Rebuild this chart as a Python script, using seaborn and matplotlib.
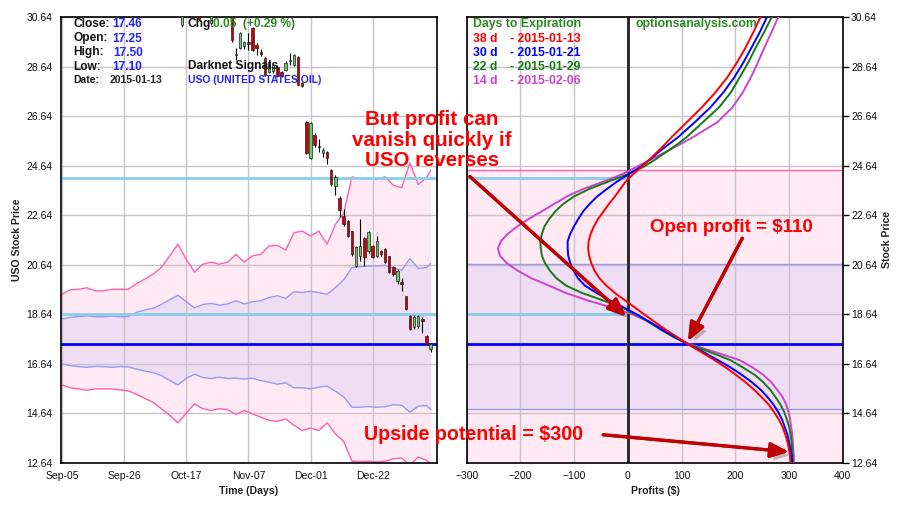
import matplotlib
matplotlib.use("Agg")
import matplotlib.pyplot as plt
import seaborn as sns
import numpy as np
from matplotlib import patheffects as pe

sns.set_theme(style="white")
plt.rcParams["font.family"] = ["Liberation Sans", "DejaVu Sans"]

# ---------------- data ----------------
tick_days = [0, 15, 30, 45, 60, 75]
tick_labels = ["Sep-05", "Sep-26", "Oct-17", "Nov-07", "Dec-01", "Dec-22"]
price_ticks = [12.64, 14.64, 16.64, 18.64, 20.64, 22.64, 24.64, 26.64, 28.64, 30.64]
profit_ticks = [-300, -200, -100, 0, 100, 200, 300, 400]

band_day = [0, 2, 4, 6, 8, 10, 12, 14, 16, 18, 20, 22, 24, 26, 28, 30, 32, 34, 36, 38,
            40, 42, 44, 46, 48, 50, 52, 54, 56, 58, 60, 62, 64, 66, 68, 70, 72, 74, 76,
            78, 80, 82, 84, 86, 88, 89]
upper_pink = [19.45, 19.63, 19.65, 19.71, 19.59, 19.59, 19.65, 19.65, 19.65, 19.88, 20.06,
              20.26, 20.53, 21.00, 21.47, 20.86, 20.35, 20.66, 20.75, 20.66, 20.75, 21.06,
              20.75, 21.00, 21.06, 21.40, 21.42, 21.24, 21.93, 22.00, 21.80, 22.00, 21.47,
              22.27, 22.71, 24.19, 24.11, 24.12, 24.08, 24.19, 23.85, 23.75, 24.75, 23.88,
              24.15, 24.46]
upper_purple = [18.45, 18.52, 18.55, 18.58, 18.54, 18.54, 18.57, 18.54, 18.55, 18.72, 18.82,
                18.88, 19.04, 19.23, 19.41, 19.15, 18.90, 19.04, 19.08, 19.01, 19.06, 19.19,
                19.06, 19.15, 19.19, 19.32, 19.39, 19.28, 19.55, 19.52, 19.57, 19.52, 19.45,
                19.72, 20.03, 20.53, 20.57, 20.59, 20.59, 20.62, 20.50, 20.42, 20.89, 20.49,
                20.53, 20.69]
lower_purple = [16.64, 16.57, 16.53, 16.50, 16.54, 16.53, 16.50, 16.53, 16.52, 16.43, 16.35,
                16.29, 16.17, 15.97, 15.79, 16.06, 16.22, 16.09, 16.05, 16.10, 16.05, 16.06,
                16.03, 16.06, 15.97, 15.90, 15.82, 15.87, 15.68, 15.68, 15.63, 15.70, 15.74,
                15.54, 15.31, 14.89, 14.89, 14.92, 14.89, 14.91, 14.99, 14.97, 14.69, 14.93,
                14.96, 14.80]
lower_pink = [15.79, 15.67, 15.63, 15.57, 15.63, 15.63, 15.63, 15.59, 15.55, 15.41, 15.25,
              15.09, 14.83, 14.56, 14.26, 14.65, 15.03, 14.83, 14.76, 14.83, 14.79, 14.60,
              14.76, 14.62, 14.49, 14.36, 14.32, 14.42, 14.16, 13.95, 14.05, 13.95, 14.26,
              13.82, 13.51, 12.71, 12.70, 12.71, 12.68, 12.71, 12.81, 12.84, 12.55, 12.88,
              12.75, 12.61]

candle_day = [29, 33, 36, 41, 42, 43, 44, 45, 46, 47, 48, 49, 50, 51, 52, 53, 54, 55, 56, 57,
              58, 59, 60, 61, 62, 63, 64, 65, 66, 67, 68, 69, 70, 71, 72, 73, 74, 75, 76, 77,
              78, 79, 80, 81, 82, 83, 84, 85, 86, 87, 88, 89]
c_open = [30.32, 30.90, 30.38, 30.90, 29.12, 29.40, 29.45, 29.62, 30.20, 29.50, 29.24, 28.98,
          28.44, 28.45, 28.64, 28.44, 28.51, 28.88, 28.71, 29.04, 27.98, 26.39, 24.93, 25.89,
          25.45, 25.15, 25.20, 24.48, 23.80, 23.35, 22.60, 22.39, 21.99, 20.60, 20.98, 21.71,
          21.18, 21.39, 20.98, 21.18, 21.26, 20.98, 20.54, 19.98, 19.95, 19.37, 18.57, 18.13,
          18.17, 18.45, 17.76, 17.25]
c_high = [30.90, 31.00, 30.90, 31.00, 29.39, 30.05, 29.68, 29.98, 30.25, 29.60, 29.35, 29.02,
          28.90, 28.75, 28.70, 28.48, 28.86, 29.19, 29.15, 29.08, 28.00, 26.45, 26.42, 25.95,
          25.70, 25.35, 25.25, 24.50, 24.25, 23.40, 22.90, 22.45, 22.02, 21.40, 22.47, 21.75,
          22.00, 21.45, 21.80, 21.25, 21.30, 21.00, 20.60, 20.45, 20.10, 19.40, 18.60, 18.60,
          18.60, 18.55, 17.80, 17.50]
c_low = [30.25, 30.50, 30.33, 29.63, 28.91, 29.35, 29.35, 29.30, 29.28, 29.10, 29.05, 28.25,
         28.40, 28.40, 28.20, 28.22, 28.48, 28.71, 28.68, 27.88, 27.80, 25.10, 24.90, 25.40,
         25.20, 25.00, 24.70, 23.80, 23.45, 22.55, 22.20, 21.75, 21.00, 20.55, 20.78, 20.58,
         21.10, 20.90, 20.95, 21.00, 20.70, 20.30, 20.20, 19.85, 19.60, 18.82, 18.00, 18.05,
         18.10, 17.90, 17.40, 17.10]
c_close = [30.80, 30.56, 30.80, 29.72, 29.16, 30.00, 29.62, 29.57, 29.31, 29.38, 29.14, 28.31,
           28.84, 28.71, 28.24, 28.27, 28.79, 28.92, 29.11, 27.90, 27.86, 25.17, 26.37, 25.49,
           25.38, 25.28, 24.96, 23.88, 24.20, 22.87, 22.27, 21.79, 21.06, 21.35, 21.39, 20.94,
           21.95, 20.94, 21.59, 21.06, 20.74, 20.34, 20.26, 20.38, 19.85, 18.85, 18.04, 18.53,
           18.57, 18.38, 17.44, 17.46]

level_high = 24.16
level_low = 18.64

price_levels = [12.64, 12.9, 13.2, 13.5, 13.8, 14.1, 14.4, 14.7, 15.0, 15.3, 15.6, 15.9,
                16.2, 16.5, 16.8, 17.1, 17.46, 17.7, 18.0, 18.3, 18.6, 18.9, 19.2, 19.5,
                19.8, 20.1, 20.4, 20.7, 21.0, 21.3, 21.6, 21.9, 22.2, 22.5, 22.8, 23.1,
                23.4, 23.7, 24.0, 24.3, 24.6, 24.9, 25.2, 25.5, 25.8, 26.4, 27.0, 27.6,
                28.2, 28.8, 29.4, 30.0, 30.64, 31.0]
profit_38d = [303, 302, 300, 297, 293, 288, 281, 272, 262, 249, 235, 219,
              201, 182, 161, 138, 110, 93, 72, 52, 33, 14, -5, -24,
              -40, -53, -62, -68, -72, -74, -73, -69, -63, -55, -45, -35,
              -24, -14, -4, 10, 26, 41, 55, 69, 82, 110, 138, 163,
              185, 203, 219, 233, 247, 255]
profit_30d = [306, 305, 303, 300, 297, 292, 287, 280, 271, 260, 247, 231,
              212, 191, 167, 142, 110, 90, 65, 43, 20, -6, -33, -58,
              -80, -93, -101, -107, -111, -112, -112, -107, -100, -92, -83, -71,
              -57, -39, -20, 2, 24, 42, 58, 76, 94, 125, 154, 178,
              198, 215, 230, 245, 259, 266]
profit_22d = [308, 307, 306, 305, 303, 300, 296, 291, 284, 275, 265, 252,
              236, 214, 190, 155, 110, 87, 63, 41, 18, -10, -46, -85,
              -115, -133, -145, -154, -160, -162, -163, -160, -155, -146, -135, -120,
              -100, -72, -36, 0, 30, 52, 72, 92, 110, 140, 170, 192,
              208, 224, 238, 253, 268, 276]
profit_14d = [309, 309, 308, 307, 306, 304, 302, 299, 295, 288, 278, 267,
              252, 232, 207, 165, 112, 92, 70, 43, 13, -27, -75, -115,
              -147, -180, -205, -225, -238, -242, -236, -223, -205, -184, -160, -137,
              -113, -83, -45, -10, 17, 44, 71, 97, 122, 167, 195, 214,
              229, 242, 254, 267, 280, 287]
curve_labels = ["38 d", "30 d", "22 d", "14 d"]
curve_dates = ["- 2015-01-13", "- 2015-01-21", "- 2015-01-29", "- 2015-02-06"]

# ---------------- styles ----------------
PINK = "#FF5FAF"
PINKFILL = "#FFE9F3"
PURPLE = "#9A9AF0"
PURPFILL = "#EEDDF3"
LIGHTBLUE = "#87CEEB"
BLUE = "#0000FF"
GRID = "#C9C2C9"
RED = "#FF0000"
GREEN_T = "#2A8A22"
CURVE_COLORS = ["#FF0000", "#0000FF", "#157A15", "#CC44CC"]
ARROW = "#C00000"

W, H = 900, 508
fig = plt.figure(figsize=(9, 5.08), dpi=100)
fig.patch.set_facecolor("white")


def fx(px):
    return px / W


def fy(py):
    return 1 - py / H


axL = fig.add_axes([fx(61), fy(463), fx(436.7) - fx(61), fy(17) - fy(463)])
axR = fig.add_axes([fx(466.7), fy(463), fx(842.7) - fx(466.7), fy(17) - fy(463)])

for ax in (axL, axR):
    ax.set_facecolor("white")
    ax.set_axisbelow("line")
    ax.grid(True, color=GRID, lw=1.0)
    for s in ax.spines.values():
        s.set_color("black")
        s.set_linewidth(1.2)
        s.set_visible(True)
    ax.tick_params(axis="both", direction="out", length=4, width=1, color="black",
                   labelsize=7.5, pad=2, labelcolor="#111111")
    ax.set_ylim(price_ticks[0], price_ticks[-1])
    ax.set_yticks(price_ticks)
    ax.set_yticklabels([f"{v:.2f}" for v in price_ticks])

# ---- left panel ----
axL.set_xlim(-0.24, 90.46)
axL.set_xticks(tick_days)
axL.set_xticklabels(tick_labels)
axL.fill_between(band_day, lower_pink, upper_pink, color=PINKFILL, lw=0, zorder=1)
axL.fill_between(band_day, lower_purple, upper_purple, color=PURPFILL, lw=0, zorder=1)
for series, col in ((upper_pink, PINK), (lower_pink, PINK),
                    (upper_purple, PURPLE), (lower_purple, PURPLE)):
    sns.lineplot(x=band_day, y=series, ax=axL, color=col, lw=1.0, estimator=None,
                 sort=False, zorder=2)
axL.axhline(level_high, color=LIGHTBLUE, lw=2, zorder=2.2)
axL.axhline(level_low, color=LIGHTBLUE, lw=2, zorder=2.2)
axL.axhline(c_close[-1], color=BLUE, lw=2, zorder=2.3)

c_open_a = np.array(c_open)
c_close_a = np.array(c_close)
up = c_close_a >= c_open_a
axL.vlines(candle_day, c_low, c_high, color="black", lw=0.8, zorder=3)
body_bottom = np.minimum(c_open_a, c_close_a)
body_h = np.maximum(np.abs(c_close_a - c_open_a), 0.03)
axL.bar(candle_day, body_h, bottom=body_bottom, width=0.6,
        color=np.where(up, "#66CC66", "#CC0000"), edgecolor="#222222", lw=0.5, zorder=4)
axL.set_xlabel("")
axL.set_ylabel("")

# ---- right panel ----
axR.set_xlim(profit_ticks[0], profit_ticks[-1])
axR.set_xticks(profit_ticks)
axR.yaxis.tick_right()
axR.axhspan(lower_pink[-1], upper_pink[-1], color=PINKFILL, lw=0, zorder=1)
axR.axhspan(lower_purple[-1], upper_purple[-1], color=PURPFILL, lw=0, zorder=1)
axR.axhline(upper_pink[-1], color=PINK, lw=1, zorder=2)
axR.axhline(upper_purple[-1], color=PURPLE, lw=1, zorder=2)
axR.axhline(lower_purple[-1], color=PURPLE, lw=1, zorder=2)
axR.hlines([level_high, level_low], profit_ticks[0], 0, color=LIGHTBLUE, lw=2, zorder=2.2)
axR.axhline(c_close[-1], color=BLUE, lw=2, zorder=2.3)
axR.axvline(0, color="#222222", lw=2, zorder=2.4)
for prof, col in zip((profit_14d, profit_22d, profit_30d, profit_38d), CURVE_COLORS[::-1]):
    sns.lineplot(x=prof, y=price_levels, ax=axR, color=col, lw=1.4, estimator=None,
                 sort=False, zorder=3)
axR.set_xlabel("")
axR.set_ylabel("")

# ---- axis titles ----
lab = dict(fontsize=7.6, fontweight="bold", color="#222222", ha="center", va="center")
fig.text(fx(249), fy(491), "Time (Days)", **lab)
fig.text(fx(655), fy(491), "Profits ($)", **lab)
fig.text(fx(17), fy(240), "USO Stock Price", rotation=90, **lab)
fig.text(fx(887), fy(240), "Stock Price", rotation=90, **lab)


def ptext(px, py, s, size=8.6, color="#111111", **kw):
    fig.text(fx(px), fy(py), s, fontsize=size, fontweight="bold", color=color,
             va="center", ha=kw.pop("ha", "left"), zorder=10, **kw)


# ---- info block ----
VAL = "#2222FF"
ptext(73, 24, "Close:")
ptext(112, 24, f"{c_close[-1]:.2f}", color=VAL)
ptext(73, 38.5, "Open:")
ptext(112, 38.5, f"{c_open[-1]:.2f}", color=VAL)
ptext(73, 52.5, "High:")
ptext(113, 52.5, f"{c_high[-1]:.2f}", color=VAL)
ptext(73, 66.5, "Low:")
ptext(112, 66.5, f"{c_low[-1]:.2f}", color=VAL)
ptext(73, 80, "Date:", size=7.5)
ptext(110, 80, "2015-01-13", size=7.5, color="#222222")
ptext(188, 24, "Chg:")
ptext(213, 24, "0.05  (+0.29 %)", color=GREEN_T)
ptext(188, 66.5, "Darknet Signals")
ptext(188, 80, "USO (UNITED STATES OIL)", size=7.5, color="#2222FF")

# ---- right legend ----
ptext(473, 24, "Days to Expiration", size=8.8, color=GREEN_T)
ptext(635, 24, "optionsanalysis.com", size=8.8, color=GREEN_T)
for k, (lbl, dte, col) in enumerate(zip(curve_labels, curve_dates, CURVE_COLORS)):
    yy = 38.5 + 14.1 * k
    ptext(473, yy, lbl, size=8.8, color=col)
    ptext(510, yy, dte, size=8.8, color=col)

# ---- big annotations ----
fig.text(fx(432), fy(140), "But profit can\nvanish quickly if\nUSO reverses", ha="center",
         va="center", fontsize=14.8, fontweight="bold", color=RED, linespacing=1.08, zorder=10)
ptext(650, 228, "Open profit = $110", size=13.5, color=RED)
ptext(364, 434, "Upside potential = $300", size=14.1, color=RED)

shadow = [pe.withSimplePatchShadow(offset=(3, -3), shadow_rgbFace="#777777", alpha=0.45),
          pe.Normal()]


def arrow(x0, y0, x1, y1):
    axR.annotate("", xy=(x1, y1), xytext=(x0, y0), xycoords="data", textcoords="data",
                 annotation_clip=False, zorder=12,
                 arrowprops=dict(arrowstyle="-|>,head_length=1.1,head_width=0.45",
                                 color=ARROW, lw=2.3, shrinkA=0, shrinkB=0,
                                 mutation_scale=10, path_effects=shadow))


arrow(-294, 24.20, -3, 18.55)
arrow(213, 21.71, 112, 17.56)
arrow(-46, 13.78, 300, 13.09)

fig.savefig("out.png", dpi=100, facecolor="white")
